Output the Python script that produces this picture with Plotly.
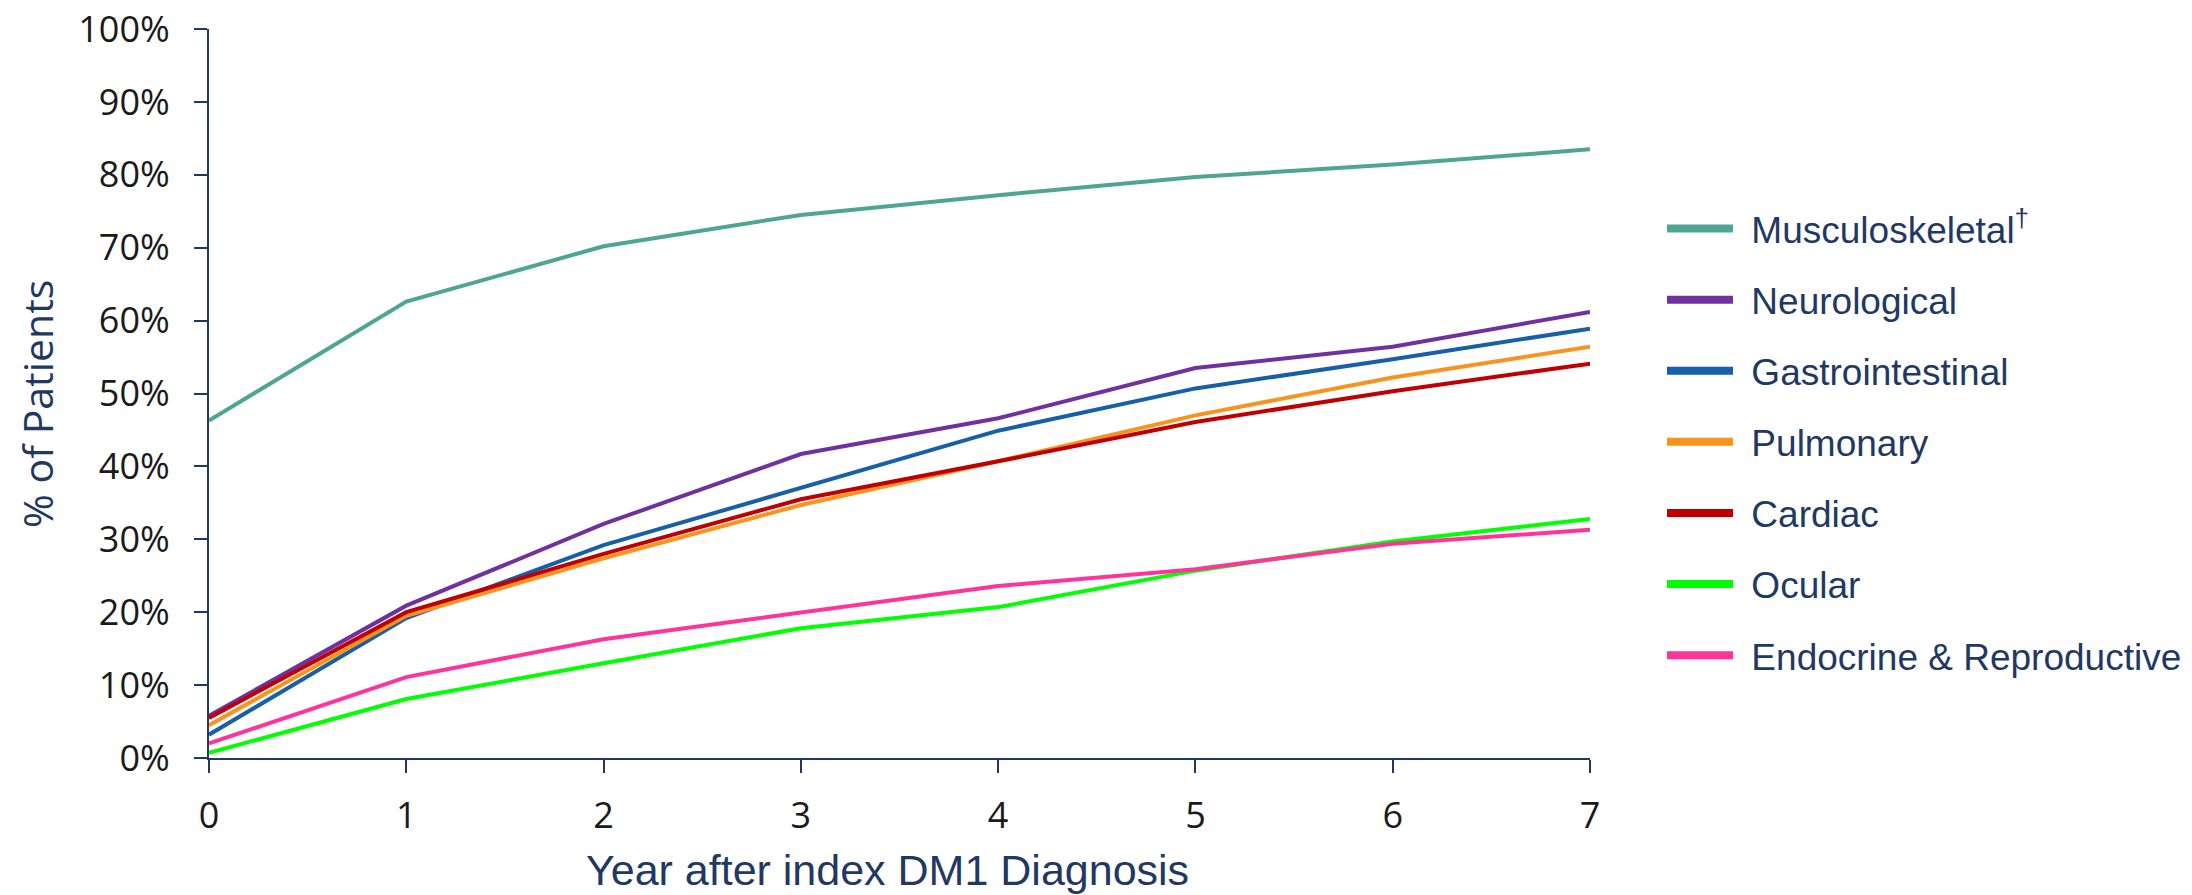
import plotly.graph_objects as go

years = [0, 1, 2, 3, 4, 5, 6, 7]
series_names = ["Musculoskeletal<sup>†</sup>", "Neurological", "Gastrointestinal",
                "Pulmonary", "Cardiac", "Ocular", "Endocrine & Reproductive"]
musculoskeletal = [46.3, 62.6, 70.2, 74.5, 77.2, 79.7, 81.4, 83.5]
neurological = [5.8, 20.9, 32.1, 41.7, 46.6, 53.5, 56.4, 61.2]
gastrointestinal = [3.2, 19.2, 29.2, 37.0, 44.9, 50.7, 54.7, 58.9]
pulmonary = [4.5, 19.5, 27.4, 34.7, 40.7, 47.0, 52.2, 56.4]
cardiac = [5.5, 20.0, 28.0, 35.5, 40.7, 46.1, 50.3, 54.1]
ocular = [0.7, 8.1, 13.0, 17.8, 20.7, 25.7, 29.7, 32.8]
endocrine = [2.0, 11.1, 16.3, 20.0, 23.6, 25.9, 29.4, 31.3]
y_ticks = [0, 10, 20, 30, 40, 50, 60, 70, 80, 90, 100]

values = [musculoskeletal, neurological, gastrointestinal, pulmonary, cardiac, ocular, endocrine]
colors = ["#4EA593", "#7030A0", "#1560A8", "#F7931E", "#C00000", "#00FF00", "#FF3399"]

NAVY = "#1F3864"
W, H = 2192, 895
ML, MR, MT, MB = 209, 602, 29, 137

fig = go.Figure()
for name, vals, col in zip(series_names, values, colors):
    fig.add_trace(go.Scatter(x=years, y=vals, mode="lines", name=name,
                             line=dict(color=col, width=4), showlegend=False,
                             hoverinfo="x+y+name"))
# legend entries (thicker sample lines); small leading gap before the label text
GAP = "\u00a0\u200a"
for i, (name, col) in enumerate(zip(series_names, colors)):
    fig.add_trace(go.Scatter(x=[None], y=[None], mode="lines", name=GAP + name,
                             line=dict(color=col, width=8), legendgroup=f"g{i}",
                             showlegend=True, hoverinfo="skip"))

plot_w = W - ML - MR
plot_h = H - MT - MB

fig.update_layout(
    width=W, height=H,
    margin=dict(l=ML, r=MR, t=MT, b=MB, autoexpand=False),
    paper_bgcolor="white", plot_bgcolor="white",
    showlegend=True,
    legend=dict(
        x=(1662 - ML) / plot_w, xanchor="left",
        y=(H - MB - 198) / plot_h, yanchor="top",
        font=dict(family="Liberation Sans, Arial, sans-serif", size=37, color=NAVY),
        itemwidth=66, tracegroupgap=20, bgcolor="rgba(0,0,0,0)",
        itemclick=False, itemdoubleclick=False,
    ),
    xaxis=dict(
        range=[0, 7], tickmode="array", tickvals=years, ticktext=[str(y) for y in years],
        showline=True, linecolor=NAVY, linewidth=2, showgrid=False, zeroline=False,
        ticks="outside", ticklen=13, tickwidth=2, tickcolor=NAVY, automargin=False,
        tickfont=dict(family="Open Sans, sans-serif", size=36, color="#1a1a1a"),
        ticklabelstandoff=12,
    ),
    yaxis=dict(
        range=[0, 100], tickmode="array", tickvals=y_ticks,
        ticktext=[f"{v}%" for v in y_ticks],
        showline=True, linecolor=NAVY, linewidth=2, showgrid=False, zeroline=False,
        ticks="outside", ticklen=13, tickwidth=2, tickcolor=NAVY, automargin=False,
        tickfont=dict(family="Open Sans, sans-serif", size=36, color="#1a1a1a"),
        ticklabelstandoff=17,
    ),
    annotations=[
        dict(text="Year after index DM1 Diagnosis", xref="paper", yref="paper",
             x=(887 - ML) / plot_w, y=(H - MB - 870) / plot_h, xanchor="center", yanchor="middle",
             showarrow=False, font=dict(family="Liberation Sans, Arial, sans-serif", size=43, color=NAVY)),
        dict(text="% of Patients", xref="paper", yref="paper", textangle=-90,
             x=(37 - ML) / plot_w, y=(H - MB - 404) / plot_h, xanchor="center", yanchor="middle",
             showarrow=False, font=dict(family="Open Sans, sans-serif", size=41, color=NAVY)),
    ],
)

fig.write_html("out.html")
